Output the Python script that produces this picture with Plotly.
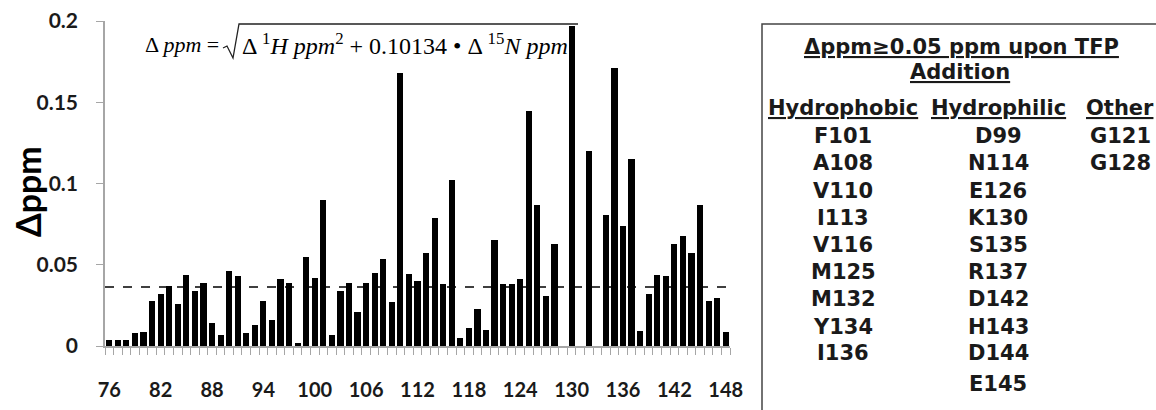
import plotly.graph_objects as go

# ---------------- data ----------------
residues = list(range(76, 149))
delta_ppm = [
    0.004, 0.004, 0.004, 0.008, 0.0086, 0.028, 0.032, 0.037, 0.026, 0.044,   # 76-85
    0.034, 0.039, 0.014, 0.007, 0.046, 0.043, 0.008, 0.013, 0.028, 0.016,    # 86-95
    0.041, 0.0386, 0.002, 0.055, 0.042, 0.090, 0.0066, 0.034, 0.0386, 0.021, # 96-105
    0.039, 0.045, 0.0535, 0.027, 0.168, 0.0445, 0.040, 0.057, 0.0786, 0.038, # 106-115
    0.102, 0.005, 0.011, 0.023, 0.0096, 0.065, 0.038, 0.0384, 0.0414, 0.1444, # 116-125
    0.0866, 0.031, 0.0626, None, 0.197, None, 0.1198, None, 0.0806, 0.171,   # 126-135
    0.074, 0.115, 0.0092, 0.0318, 0.044, 0.0433, 0.0628, 0.068, 0.0574, 0.0866, # 136-145
    0.0279, 0.0295, 0.0088,                                                  # 146-148
]
threshold = 0.0363
x_tick_labels = [76, 82, 88, 94, 100, 106, 112, 118, 124, 130, 136, 142, 148]
y_tick_vals = [0, 0.05, 0.1, 0.15, 0.2]
y_tick_text = ["0", "0.05", "0.1", "0.15", "0.2"]

table_title = ["Δppm≥0.05 ppm upon TFP", "Addition"]
col_headers = ["Hydrophobic", "Hydrophilic", "Other"]
hydrophobic = ["F101", "A108", "V110", "I113", "V116", "M125", "M132", "Y134", "I136"]
hydrophilic = ["D99", "N114", "E126", "K130", "S135", "R137", "D142", "H143", "D144", "E145"]
other = ["G121", "G128"]

# ---------------- geometry helpers ----------------
W, H = 1156, 410
ML, MR, MT, MB = 105, 426, 21, 64
PW, PH = W - ML - MR, H - MT - MB


def px(xpix):
    return (xpix - ML) / PW


def py(ypix):
    return (H - MB - ypix) / PH


GRAY = "#a6a6a6"


def note(xp, yp, text, font, xanchor="center", **kw):
    fig.add_annotation(xref="paper", yref="paper", x=px(xp), y=py(yp),
                       xanchor=xanchor, yanchor="middle", showarrow=False,
                       text=text, font=font, **kw)


fig = go.Figure()
fig.add_trace(go.Bar(x=residues, y=delta_ppm, width=0.72,
                     marker=dict(color="black", line=dict(width=0))))

fig.add_shape(type="line", xref="x", yref="y", x0=75.5, x1=149.5,
              y0=threshold, y1=threshold,
              line=dict(color="black", width=1.3, dash="dash"))

# formula
note(143, 44, "Δ <i>ppm</i> =", dict(family="Liberation Serif", size=22, color="black"),
     xanchor="left")
note(240, 44,
     "Δ <sup>1</sup><i>H ppm</i><sup>2</sup> + 0.10134 • Δ <sup>15</sup><i>N ppm</i>",
     dict(family="Liberation Serif", size=24, color="black"), xanchor="left")
rad = [(223, 48), (227, 46), (233, 58), (239, 24), (578, 24)]
path = "M " + " L ".join(f"{px(a):.5f},{py(b):.5f}" for a, b in rad)
fig.add_shape(type="path", xref="paper", yref="paper", path=path,
              line=dict(color="#222", width=1.3))

# y-axis title
note(27, 192, "<b>Δppm</b>", dict(family="Lato", size=34, color="black"), textangle=-90)

# table box
fig.add_shape(type="rect", xref="paper", yref="paper", x0=px(762), x1=px(1200),
              y0=py(440), y1=py(24), line=dict(color="#444", width=1.5))

TF = dict(family="DejaVu Sans", size=21, color="#1a1a1a")
note(961, 47, "<b><u>" + table_title[0] + "</u></b>", TF)
note(960, 72, "<b><u>" + table_title[1] + "</u></b>", TF)
col_x = [843, 998, 1120]
for cx, hdr in zip(col_x, col_headers):
    note(cx, 108, "<b><u>" + hdr + "</u></b>", TF)
row_y = [136, 163, 190.5, 218, 245, 272, 299, 326.5, 353, 384]
for cx, items in zip(col_x, [hydrophobic, hydrophilic, other]):
    for i, it in enumerate(items):
        note(cx, row_y[i], "<b>" + it + "</b>", TF)

fig.update_layout(
    width=W, height=H, margin=dict(l=ML, r=MR, t=MT, b=MB, autoexpand=False),
    plot_bgcolor="white", paper_bgcolor="white", showlegend=False,
    bargap=0,
    xaxis=dict(range=[75.5, 148.5], tickmode="array", tickvals=x_tick_labels,
               ticktext=[str(v) for v in x_tick_labels], ticks="",
               showline=True, linecolor=GRAY, linewidth=1.5, showgrid=False,
               zeroline=False, automargin=False,
               tickfont=dict(family="Lato", size=20, color="#1a1a1a", weight="bold"),
               ticklabelstandoff=25,
               minor=dict(ticks="outside", ticklen=7, tickcolor=GRAY, tickwidth=1,
                          tick0=75.5, dtick=1, showgrid=False)),
    yaxis=dict(range=[0, 0.2], tickmode="array", tickvals=y_tick_vals,
               ticktext=y_tick_text, ticks="outside", ticklen=7, tickcolor=GRAY,
               showline=True, linecolor=GRAY, linewidth=1.5, showgrid=False,
               zeroline=False, automargin=False,
               tickfont=dict(family="Lato", size=21, color="#1a1a1a", weight="bold"),
               ticklabelstandoff=14),
)

fig.write_html("out.html")
